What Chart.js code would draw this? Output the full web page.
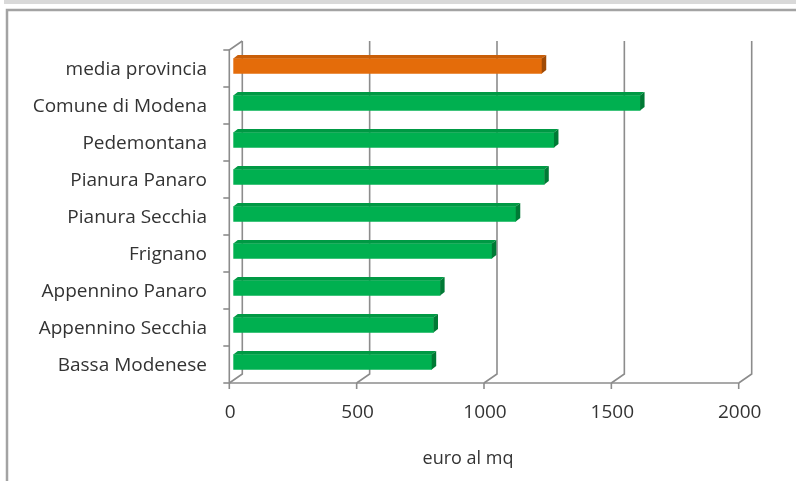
<!DOCTYPE html>
<html>
<head>
<meta charset="utf-8">
<script src="https://cdn.jsdelivr.net/npm/chart.js@4/dist/chart.umd.min.js"></script>
<style>
  html, body { margin: 0; padding: 0; background: #ffffff; }
  #wrap { width: 796px; height: 481px; position: relative; }
</style>
</head>
<body>
<div id="wrap"><canvas id="c" width="796" height="481"></canvas></div>
<script>
// Prezzo medio al metro quadro per area della provincia di Modena
const categories = [
  'media provincia', 'Comune di Modena', 'Pedemontana', 'Pianura Panaro',
  'Pianura Secchia', 'Frignano', 'Appennino Panaro', 'Appennino Secchia', 'Bassa Modenese'
];
const prezzi = [1211, 1597, 1259, 1221, 1109, 1015, 812, 786, 779];
const xTicks = [0, 500, 1000, 1500, 2000];
const xTitle = 'euro al mq';
const evidenziata = 'media provincia';

const FONT = '"Open Sans", "Liberation Sans", sans-serif';
const TEXT = '#333333';
const GRID = '#8c8c8c';

// pseudo-3D geometry: offsets of the front plane and the back wall from the bar plane
const FRONT = { dx: -4, dy: 2.5 };
const BACK = { dx: 9, dy: -6.5 };
const BAR_DEPTH = { dx: 4.5, dy: 3.5 };

const faceColors = (name) => name === evidenziata
  ? { front: '#e46c0a', top: '#c95e08', side: '#a04a05' }
  : { front: '#00b050', top: '#009944', side: '#007a35' };

const frame3d = {
  id: 'frame3d',
  beforeDatasetsDraw(chart) {
    const { ctx, chartArea: a, scales: { x, y } } = chart;
    ctx.save();
    // sheet band and border
    ctx.fillStyle = '#d9d9d9';
    ctx.fillRect(4, 0, 792, 4);
    ctx.strokeStyle = '#a3a3a3';
    ctx.lineWidth = 2.5;
    ctx.beginPath();
    ctx.moveTo(7, 481); ctx.lineTo(7, 10); ctx.lineTo(796, 10);
    ctx.stroke();

    const frontBottom = a.bottom + FRONT.dy;
    const frontTop = a.top + FRONT.dy;
    const backBottom = a.bottom + BACK.dy;
    const backTop = a.top + BACK.dy;

    ctx.strokeStyle = GRID;
    ctx.lineWidth = 1.6;
    // back wall gridlines with floor diagonals
    xTicks.forEach(v => {
      const px = x.getPixelForValue(v);
      ctx.beginPath();
      ctx.moveTo(px + FRONT.dx, frontBottom);
      ctx.lineTo(px + BACK.dx, backBottom);
      ctx.lineTo(px + BACK.dx, backTop);
      ctx.stroke();
      // tick mark on the front axis
      ctx.beginPath();
      ctx.moveTo(px + FRONT.dx, frontBottom);
      ctx.lineTo(px + FRONT.dx, frontBottom + 6);
      ctx.stroke();
    });
    // front value axis
    const x0 = x.getPixelForValue(0) + FRONT.dx;
    const x1 = x.getPixelForValue(2000) + FRONT.dx;
    ctx.beginPath();
    ctx.moveTo(x0, frontBottom); ctx.lineTo(x1, frontBottom);
    ctx.stroke();
    // front category axis with its top edge towards the back wall
    ctx.beginPath();
    ctx.moveTo(x0, frontBottom); ctx.lineTo(x0, frontTop);
    ctx.lineTo(x.getPixelForValue(0) + BACK.dx, backTop);
    ctx.stroke();
    const step = (a.bottom - a.top) / categories.length;
    for (let i = 0; i <= categories.length; i++) {
      const ty = frontTop + i * step;
      ctx.beginPath();
      ctx.moveTo(x0 - 6, ty); ctx.lineTo(x0, ty);
      ctx.stroke();
    }

    // labels
    ctx.fillStyle = TEXT;
    ctx.font = '19px ' + FONT;
    ctx.textAlign = 'right';
    ctx.textBaseline = 'middle';
    categories.forEach((c, i) => {
      const cy = y.getPixelForValue(i) + FRONT.dy + 1;
      ctx.fillText(c, 207, cy);
    });
    ctx.textAlign = 'center';
    xTicks.forEach(v => {
      ctx.fillText(String(v), x.getPixelForValue(v) + FRONT.dx + 1, frontBottom + 30);
    });
    ctx.font = '18px ' + FONT;
    ctx.fillText(xTitle, 468, 459);
    ctx.restore();
  },
  afterDatasetsDraw(chart) {
    const { ctx } = chart;
    const meta = chart.getDatasetMeta(0);
    ctx.save();
    meta.data.forEach((el, i) => {
      const c = faceColors(categories[i]);
      const top = el.y - el.height / 2;
      const bottom = el.y + el.height / 2;
      const { dx, dy } = BAR_DEPTH;
      // top face
      ctx.fillStyle = c.top;
      ctx.beginPath();
      ctx.moveTo(el.base, top); ctx.lineTo(el.x, top);
      ctx.lineTo(el.x + dx, top - dy); ctx.lineTo(el.base + dx, top - dy);
      ctx.closePath(); ctx.fill();
      // end face
      ctx.fillStyle = c.side;
      ctx.beginPath();
      ctx.moveTo(el.x, top); ctx.lineTo(el.x + dx, top - dy);
      ctx.lineTo(el.x + dx, bottom - dy); ctx.lineTo(el.x, bottom);
      ctx.closePath(); ctx.fill();
    });
    ctx.restore();
  }
};

new Chart(document.getElementById('c'), {
  type: 'bar',
  data: {
    labels: categories,
    datasets: [{
      data: prezzi,
      backgroundColor: categories.map(n => faceColors(n).front),
      barThickness: 15,
      borderWidth: 0
    }]
  },
  options: {
    indexAxis: 'y',
    responsive: false,
    animation: false,
    layout: { padding: { left: 233.3, right: 53.3, top: 47.5, bottom: 100.5 } },
    scales: {
      x: { type: 'linear', min: 0, max: 2000, display: false },
      y: { type: 'category', display: false }
    },
    plugins: { legend: { display: false }, tooltip: { enabled: false } }
  },
  plugins: [frame3d]
});
</script>
</body>
</html>
